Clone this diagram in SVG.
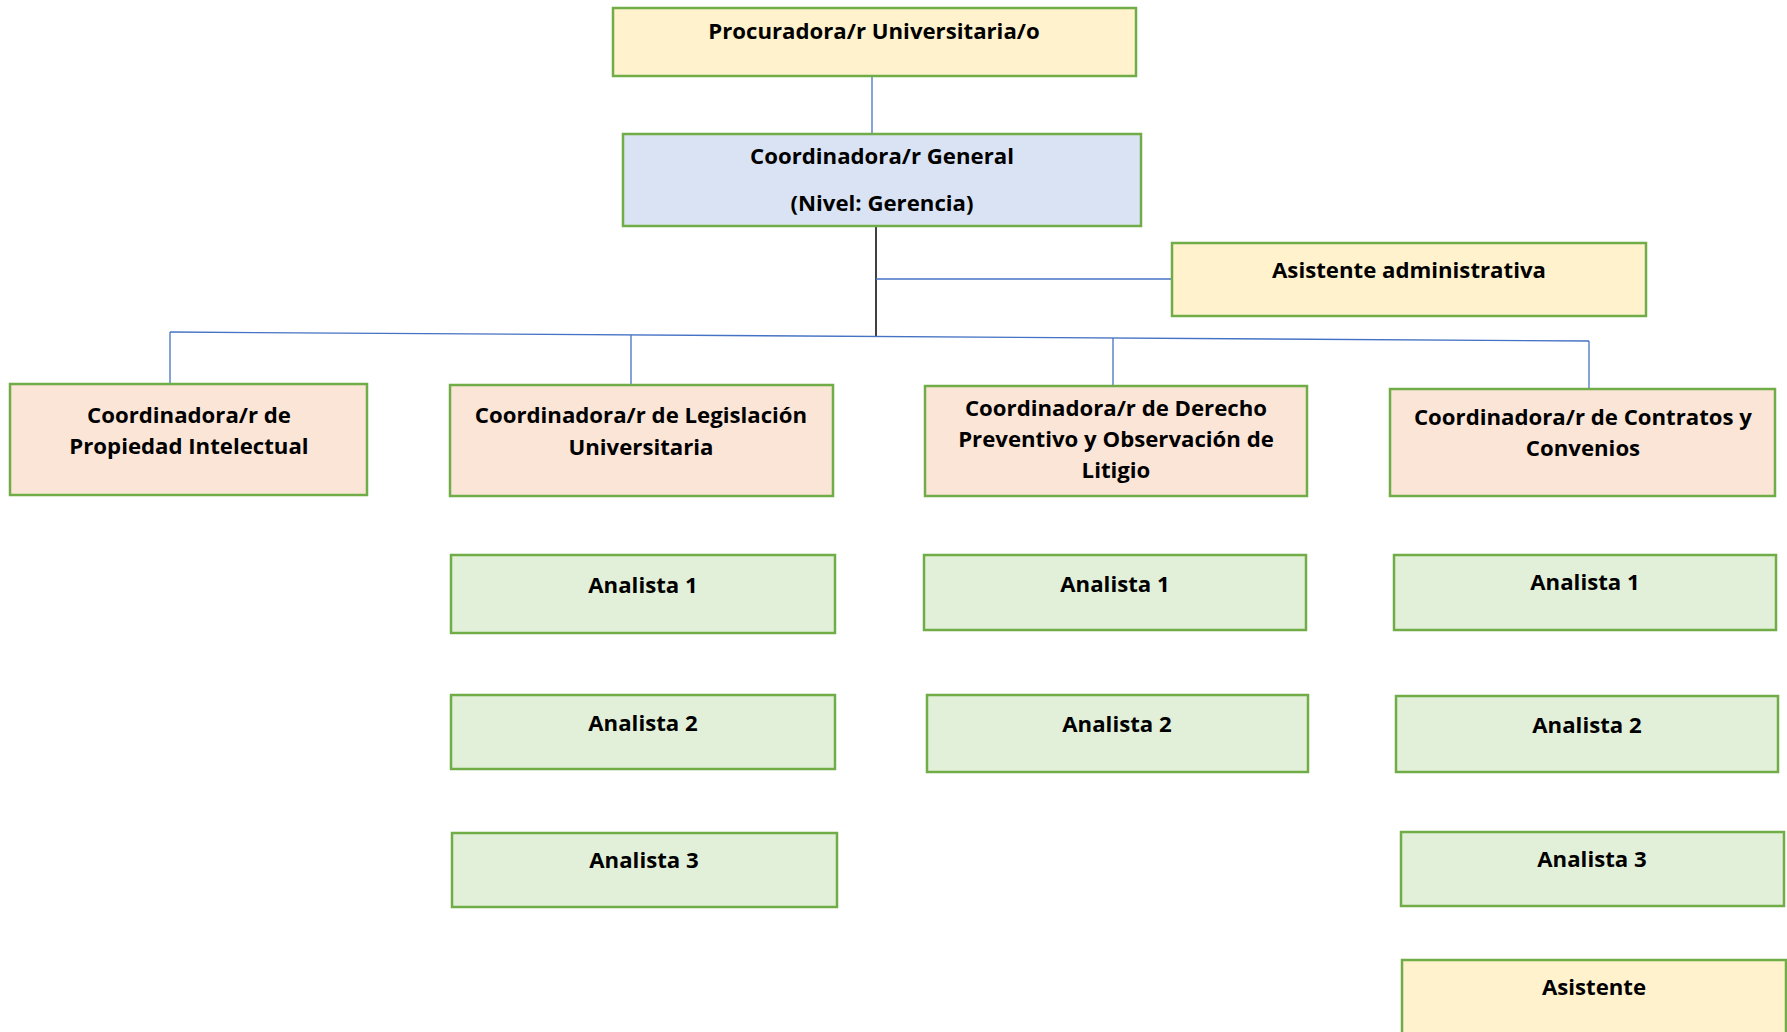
<svg xmlns="http://www.w3.org/2000/svg" width="1787" height="1032" viewBox="0 0 1787 1032">
<style>
.b{stroke:#70AD47;stroke-width:2.5}
.y{fill:#FFF2CC}.bl{fill:#DAE3F3}.s{fill:#FBE5D6}.g{fill:#E2F0D9}
text{font-family:"Open Sans","Liberation Sans",sans-serif;font-weight:700;font-size:22.2px;fill:#000;text-anchor:middle}
.c{stroke:#4472C4;stroke-width:1.3;fill:none}
</style>
<rect width="1787" height="1032" fill="#fff"/>
<g id="connectors">
<line class="c" x1="872" y1="76" x2="872" y2="134"/>
<line x1="876" y1="226" x2="876" y2="336" stroke="#000" stroke-width="1.5"/>
<line class="c" x1="876" y1="279" x2="1172" y2="279"/>
<line class="c" x1="170" y1="332" x2="1589" y2="341"/>
<line class="c" x1="170" y1="332" x2="170" y2="384"/>
<line class="c" x1="631" y1="335" x2="631" y2="385"/>
<line class="c" x1="1113" y1="338" x2="1113" y2="386"/>
<line class="c" x1="1589" y1="341" x2="1589" y2="389"/>
</g>
<g id="procuradora"><rect class="b y" x="613" y="8" width="523" height="68"/><text x="874" y="39">Procuradora/r Universitaria/o</text></g>
<g id="coord-general"><rect class="b bl" x="623" y="134" width="518" height="92"/><text x="882" y="164">Coordinadora/r General</text><text x="882" y="211">(Nivel: Gerencia)</text></g>
<g id="asistente-admin"><rect class="b y" x="1172" y="243" width="474" height="73"/><text x="1409" y="278">Asistente administrativa</text></g>
<g id="coord-pi"><rect class="b s" x="10" y="384" width="357" height="111"/><text x="189" y="423">Coordinadora/r de</text><text x="189" y="454">Propiedad Intelectual</text></g>
<g id="coord-leg"><rect class="b s" x="450" y="385" width="383" height="111"/><text x="641" y="423">Coordinadora/r de Legislación</text><text x="641" y="455">Universitaria</text></g>
<g id="coord-der"><rect class="b s" x="925" y="386" width="382" height="110"/><text x="1116" y="416">Coordinadora/r de Derecho</text><text x="1116" y="447">Preventivo y Observación de</text><text x="1116" y="478">Litigio</text></g>
<g id="coord-con"><rect class="b s" x="1390" y="389" width="385" height="107"/><text x="1583" y="425">Coordinadora/r de Contratos y</text><text x="1583" y="456">Convenios</text></g>
<g id="leg-a1"><rect class="b g" x="451" y="555" width="384" height="78"/><text x="643" y="593">Analista 1</text></g>
<g id="leg-a2"><rect class="b g" x="451" y="695" width="384" height="74"/><text x="643" y="731">Analista 2</text></g>
<g id="leg-a3"><rect class="b g" x="452" y="833" width="385" height="74"/><text x="644" y="868">Analista 3</text></g>
<g id="der-a1"><rect class="b g" x="924" y="555" width="382" height="75"/><text x="1115" y="592">Analista 1</text></g>
<g id="der-a2"><rect class="b g" x="927" y="695" width="381" height="77"/><text x="1117" y="732">Analista 2</text></g>
<g id="con-a1"><rect class="b g" x="1394" y="555" width="382" height="75"/><text x="1585" y="590">Analista 1</text></g>
<g id="con-a2"><rect class="b g" x="1396" y="696" width="382" height="76"/><text x="1587" y="733">Analista 2</text></g>
<g id="con-a3"><rect class="b g" x="1401" y="832" width="383" height="74"/><text x="1592" y="867">Analista 3</text></g>
<g id="con-asis"><rect class="b y" x="1402" y="960" width="384" height="80"/><text x="1594" y="995">Asistente</text></g>
</svg>
